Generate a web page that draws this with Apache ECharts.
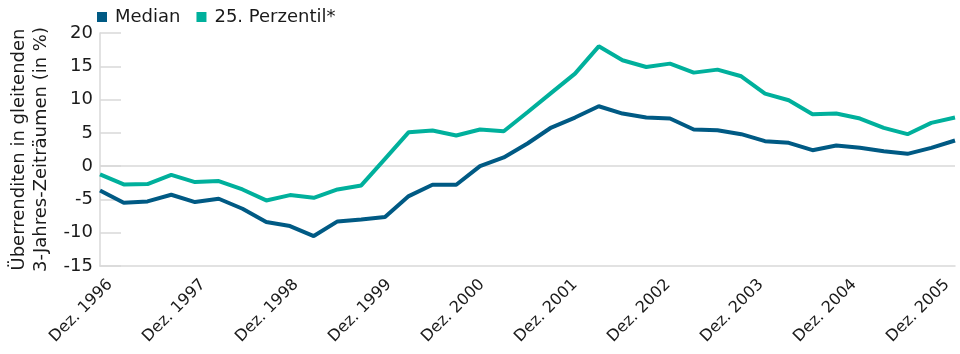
<!DOCTYPE html>
<html>
<head>
<meta charset="utf-8">
<script src="https://cdn.jsdelivr.net/npm/echarts@6/dist/echarts.min.js"></script>
<style>
  html, body { margin: 0; padding: 0; background: #fff; }
  #chart { width: 960px; height: 354px; }
</style>
</head>
<body>
<div id="chart"></div>
<script>
// Quarterly points, Dez. 1996 .. Dez. 2005
const quarters = []
for (let y = 1996; y <= 2005; y++) {
  if (y === 1996) { quarters.push('Dez. 1996'); continue }
  quarters.push('Mär. ' + y, 'Jun. ' + y, 'Sep. ' + y, 'Dez. ' + y)
}

const yearLabels = ['Dez. 1996', 'Dez. 1997', 'Dez. 1998', 'Dez. 1999', 'Dez. 2000',
  'Dez. 2001', 'Dez. 2002', 'Dez. 2003', 'Dez. 2004', 'Dez. 2005']

const median = [-3.65, -5.5, -5.3, -4.3, -5.4, -4.9, -6.4, -8.4, -9.0, -10.5,
  -8.3, -8.0, -7.65, -4.5, -2.8, -2.8, 0.0, 1.3, 3.4, 5.8,
  7.3, 9.0, 7.9, 7.3, 7.15, 5.5, 5.4, 4.8, 3.75, 3.5,
  2.4, 3.1, 2.75, 2.25, 1.85, 2.75, 3.85]

const perzentil25 = [-1.25, -2.75, -2.7, -1.3, -2.4, -2.25, -3.5, -5.15, -4.35, -4.75,
  -3.5, -2.9, 1.1, 5.1, 5.35, 4.6, 5.5, 5.25, 8.1, 11.0,
  13.9, 18.0, 15.9, 14.9, 15.4, 14.05, 14.5, 13.5, 10.9, 9.9,
  7.8, 7.9, 7.15, 5.75, 4.8, 6.5, 7.3]

const FONT = 'DejaVu Sans'
const TEXT = '#1a1a1a'
const GRAY = '#d9d9d9'

const chart = echarts.init(document.getElementById('chart'), null, { renderer: 'canvas' })

chart.setOption({
  animation: false,
  backgroundColor: '#fff',
  textStyle: { fontFamily: FONT },
  legend: {
    left: 92,
    top: 3,
    icon: 'rect',
    itemWidth: 10,
    itemHeight: 10,
    itemGap: 16,
    textStyle: { color: TEXT, fontSize: 18, fontFamily: FONT, padding: [0, 0, 0, 3] },
    data: ['Median', '25. Perzentil*'],
  },
  grid: [
    { left: 95, right: 5, top: 33, bottom: 88 },
    // label strip for the year ticks
    { left: 110, right: 13, top: 33, bottom: 88 },
  ],
  xAxis: [
    {
      type: 'category',
      gridIndex: 0,
      data: quarters,
      boundaryGap: false,
      axisLine: { onZero: false, lineStyle: { color: GRAY, width: 1.5 } },
      axisTick: { show: false },
      axisLabel: { show: false },
      splitLine: { show: false },
    },
    {
      type: 'category',
      gridIndex: 1,
      data: yearLabels,
      boundaryGap: false,
      axisLine: { show: false },
      axisTick: { show: false },
      splitLine: { show: false },
      axisLabel: {
        rotate: 45,
        margin: 16,
        interval: 0,
        color: TEXT,
        fontSize: 16,
        fontFamily: FONT,
      },
    },
  ],
  yAxis: [
    {
      type: 'value',
      gridIndex: 0,
      min: -15,
      max: 20,
      interval: 5,
      name: 'Überrenditen in gleitenden\n3-Jahres-Zeiträumen (in %)',
      nameLocation: 'middle',
      nameRotate: 90,
      nameGap: 48,
      nameTextStyle: { color: TEXT, fontSize: 18, fontFamily: FONT, lineHeight: 22 },
      axisLine: { show: true, lineStyle: { color: GRAY, width: 1.5 } },
      axisTick: { show: true, inside: true, length: 21, lineStyle: { color: GRAY, width: 1.5 } },
      splitLine: { show: false },
      axisLabel: { color: TEXT, fontSize: 18, fontFamily: FONT, margin: 7 },
    },
    {
      type: 'value',
      gridIndex: 1,
      show: false,
      min: -15,
      max: 20,
    },
  ],
  series: [
    {
      name: 'Median',
      type: 'line',
      xAxisIndex: 0,
      yAxisIndex: 0,
      data: median,
      symbol: 'none',
      lineStyle: { color: '#005a84', width: 4 },
      itemStyle: { color: '#005a84' },
      z: 3,
      markLine: {
        silent: true,
        symbol: 'none',
        label: { show: false },
        lineStyle: { color: GRAY, width: 1.5, type: 'solid' },
        data: [{ yAxis: 0 }],
        z: 1,
      },
    },
    {
      name: '25. Perzentil*',
      type: 'line',
      xAxisIndex: 0,
      yAxisIndex: 0,
      data: perzentil25,
      symbol: 'none',
      lineStyle: { color: '#00b09c', width: 4 },
      itemStyle: { color: '#00b09c' },
      z: 3,
    },
  ],
})
</script>
</body>
</html>
